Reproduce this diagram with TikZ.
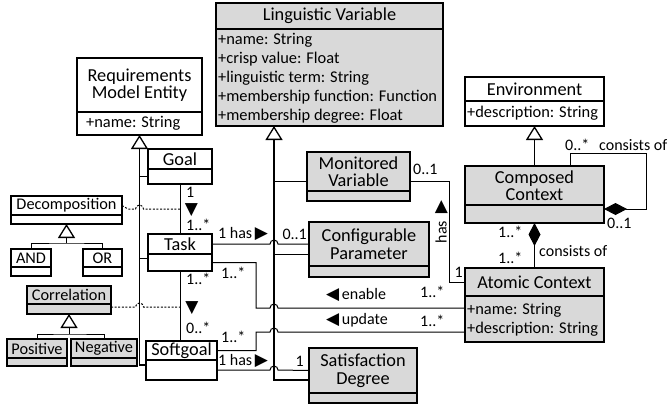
\documentclass[tikz,border=0pt]{standalone}
\usepackage{fontspec}
\setmainfont{Carlito}
\newfontfamily\symf{DejaVu Sans}
\usetikzlibrary{arrows.meta,calc}
\definecolor{cgray}{HTML}{D9D9D9}
\newcommand\rtri{{\symf\fontsize{17}{17}\selectfont ▶}}
\newcommand\ltri{{\symf\fontsize{17}{17}\selectfont ◀}}
\newcommand\utri{{\symf\fontsize{17}{17}\selectfont ▲}}
\newcommand\dtri{{\symf\fontsize{17}{17}\selectfont ▼}}
\tikzset{
  box/.style={draw, line width=1.3pt, anchor=north west, inner sep=0pt, outer sep=0pt,
    align=center, fill=white, font=\fontsize{18.3}{17.5}\selectfont},
  gbox/.style={box, fill=cgray},
  sbox/.style={box, font=\fontsize{16.3}{17}\selectfont},
  gsbox/.style={sbox, fill=cgray},
  attr/.style={anchor=west, inner sep=0pt, align=left, font=\fontsize{16.4}{19}\selectfont},
  lbl/.style={inner sep=0pt, font=\fontsize{16}{19}\selectfont},
  conn/.style={line width=1pt},
  trunk/.style={line width=1.5pt},
  inh/.style={-{Triangle[open, length=14pt, width=17pt, fill=white, line width=1.3pt]}},
  comp/.style={conn, -{Diamond[length=23pt, width=12pt, fill=black]}},
  dep/.style={conn, dash pattern=on 2pt off 1.6pt},
}
\newcommand\umlcls[8]{%
  \node[#2, minimum width={(#5-#3)*1pt}, minimum height={(#6-#4)*1pt}] (#1) at (#3,#4) {#8};
  \node[#2, minimum width={(#5-#3)*1pt}, minimum height={(#7-#6)*1pt}] (#1-a) at (#3,#6) {};
}
\begin{document}
\begin{tikzpicture}[x=1pt,y=-1pt]
\useasboundingbox (0,0) rectangle (668,405);

% ---------- classes
\umlcls{rme}{box}{77}{58}{202}{112}{135}{Requirements\\Model Entity}
\umlcls{lv}{gbox}{216}{3}{443}{29}{126}{Linguistic Variable}
\umlcls{goal}{box}{148}{149}{212}{169}{184}{Goal}
\umlcls{task}{box}{148}{234}{212}{254}{271}{Task}
\umlcls{softgoal}{box}{146}{341}{217}{360}{380}{Softgoal}
\umlcls{dec}{sbox}{11}{196}{122}{215}{224}{Decomposition}
\umlcls{andc}{sbox}{11}{249}{51}{267}{276}{AND}
\umlcls{orc}{sbox}{83}{249}{122}{267}{276}{OR}
\umlcls{corr}{gsbox}{27}{286}{111}{304}{314}{Correlation}
\umlcls{pos}{gsbox}{7}{339}{67}{358}{366}{Positive}
\umlcls{neg}{gsbox}{71}{339}{137}{358}{366}{Negative}
\umlcls{mv}{gbox}{307}{152}{410}{191}{201}{Monitored\\Variable}
\umlcls{cp}{gbox}{309}{222}{429}{266}{277}{Configurable\\Parameter}
\umlcls{sd}{gbox}{309}{348}{417}{393}{403}{Satisfaction\\Degree}
\umlcls{env}{box}{465}{77}{604}{101}{126}{Environment}
\umlcls{cc}{gbox}{465}{166}{604}{205}{223}{Composed\\Context}
\umlcls{ac}{gbox}{465}{268}{604}{296}{342}{Atomic Context}

% attributes
\node[attr] (rmeat) at (86,123.5) {+name: String};
\node[attr, anchor=north west] (lvat) at (218,33) {+name: String\\+crisp value: Float\\+linguistic term: String\\+membership function: Function\\+membership degree: Float};
\node[attr] (envat) at (467,113.5) {+description: String};
\node[attr] (acat1) at (467,310) {+name: String};
\node[attr] (acat2) at (467,329) {+description: String};

% generalisation: Requirements Model Entity
\draw[trunk, inh] (softgoal.west |- 0,365) -| (rme-a.south);
\draw[conn] (rme-a.south |- goal-a.west) -- (goal-a.west);
\draw[conn] (rme-a.south |- 0,258) -- (task.west |- 0,258);

% generalisation: Linguistic Variable
\coordinate (lvtip) at (274,126);
\draw[trunk, inh] (sd.west |- 0,380) -| (lvtip);
\draw[conn] (lvtip |- 0,181) -- (mv.west |- 0,181);
\draw[conn] (lvtip |- 0,254) -- (cp.west |- 0,254);

% Decomposition / Correlation trees
\coordinate (dj) at (dec-a.south |- 0,243);
\draw[conn, inh] (dj) -- (dec-a.south);
\draw[conn] (andc.north) |- (dj) -| (orc.north);
\coordinate (cj) at (corr-a.south |- 0,334);
\draw[conn, inh] (cj) -- (corr-a.south);
\draw[conn] (pos.north) |- (cj) -| (neg.north);

% Goal - Task - Softgoal
\draw[conn] (goal-a.south) -- (task.north);
\draw[conn] (task-a.south) -- (task-a.south |- softgoal.north);
\coordinate (gt) at (goal-a.south |- 0,209);
\coordinate (ts) at (task-a.south |- 0,307);
\draw[dep] (dec.east) -- (128,209) -- (135.5,209) arc[start angle=180, end angle=0, radius=4pt] -- (gt);
\draw[dep] (corr-a.east |- ts) -- (135.5,307) arc[start angle=180, end angle=0, radius=4pt] -- (ts);

% Task has Configurable Parameter
\draw[conn] (task.east) -- (270,244) arc[start angle=180, end angle=0, radius=4pt] -- (cp.west);
% Softgoal has Satisfaction Degree
\draw[conn] (softgoal-a.east) -- (270,370) arc[start angle=180, end angle=0, radius=4pt] -- (sd.west);
% enable
\coordinate (en) at (256,308);
\draw[conn] (task-a.east) -| (en) -- (270,308) arc[start angle=180, end angle=0, radius=4pt] -- (ac-a.west |- en);
% update
\coordinate (upd) at (256,332);
\draw[conn] (softgoal.east) -| (upd) -- (270,332) arc[start angle=180, end angle=0, radius=4pt] -- (ac-a.west |- upd);
% Monitored Variable - Atomic Context
\draw[conn] (mv.east |- 0,181) -| (449,282) -- (ac.west);

% Environment generalisation
\draw[conn, inh] (cc.north) -- (env-a.south);
% Composed self composition
\draw[comp] (cc.north -| 570,0) |- (646,153) |- (cc.east |- 0,209);
% Composed - Atomic
\draw[comp] (ac.north) -- (cc-a.south);

% ---------- labels
\node[lbl, anchor=west] (l1) at (186,192) {1};
\node[lbl] (a1) at (191.5,210.5) {\dtri};
\node[lbl, anchor=west] (l2) at (186,225) {1..*};
\node[lbl, anchor=west] (l3) at (186,279) {1..*};
\node[lbl] (a2) at (192,308) {\dtri};
\node[lbl, anchor=west] (l4) at (186,328) {0..*};

\node[lbl, anchor=west] (l5) at (218,234) {1 has\,\rtri};
\node[lbl, anchor=east] (l6) at (307,234) {0..1};
\node[lbl, anchor=west] (l7) at (221,273) {1..*};
\node[lbl, anchor=west] (l8) at (221,337) {1..*};
\node[lbl, anchor=west] (l9) at (218,361) {1 has\,\rtri};
\node[lbl, anchor=east] (l10) at (304,361) {1};

\node[lbl, anchor=west] (l11) at (326,295) {\ltri\,enable};
\node[lbl, anchor=west] (l12) at (420,292) {1..*};
\node[lbl, anchor=west] (l13) at (326,320) {\ltri\,update};
\node[lbl, anchor=west] (l14) at (420,321) {1..*};

\node[lbl, anchor=west] (l15) at (413,169) {0..1};
\node[lbl] (a3) at (441.5,207) {\utri};
\node[lbl, rotate=90] (l16) at (441,232) {has};
\node[lbl, anchor=east] (l17) at (463,272) {1};

\node[lbl, anchor=west] (l18) at (565,145) {0..*};
\node[lbl, anchor=west] (l19) at (599,145) {consists of};
\node[lbl, anchor=west] (l20) at (607,223) {0..1};
\node[lbl, anchor=west] (l21) at (498,232) {1..*};
\node[lbl, anchor=west] (l22) at (498,258) {1..*};
\node[lbl, anchor=west] (l23) at (539,251) {consists of};
\end{tikzpicture}
\end{document}
